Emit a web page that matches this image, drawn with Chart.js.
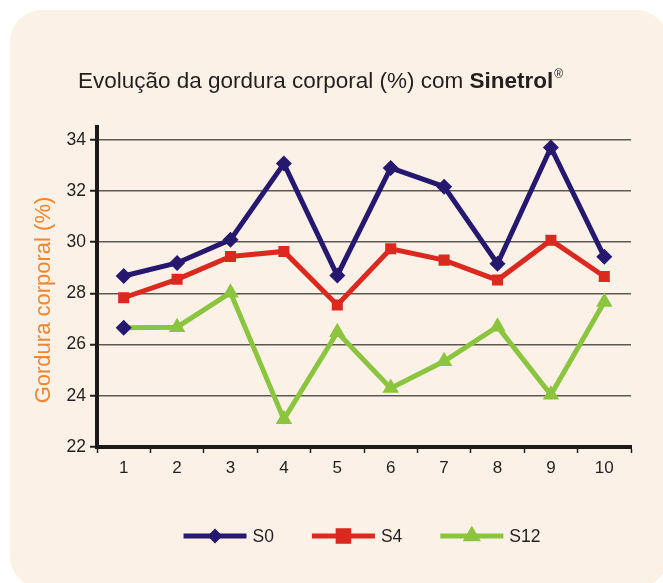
<!DOCTYPE html>
<html>
<head>
<meta charset="utf-8">
<title>Evolução da gordura corporal</title>
<script src="https://cdn.jsdelivr.net/npm/chart.js@4.4.1/dist/chart.umd.min.js"></script>
<style>
  html, body { margin: 0; padding: 0; background: #fff; }
  #wrap { width: 663px; height: 583px; }
</style>
</head>
<body>
<div id="wrap"><canvas id="chart" width="663" height="583"></canvas></div>
<script>
// data
const sessions = ['1', '2', '3', '4', '5', '6', '7', '8', '9', '10'];
const s0  = [28.68, 29.19, 30.1, 33.07, 28.7, 32.9, 32.17, 29.16, 33.7, 29.43];
const s4  = [27.83, 28.55, 29.44, 29.64, 27.55, 29.74, 29.3, 28.52, 30.08, 28.66];
const s12 = [26.66, 26.68, 28.03, 23.08, 26.48, 24.3, 25.35, 26.7, 24.04, 27.66];
const yTicks = [22, 24, 26, 28, 30, 32, 34];

const NAVY = '#26186f';
const RED = '#dc2920';
const GREEN = '#8bc53f';
const ORANGE = '#ef8630';
const INK = '#231f20';
const FONT = '"Liberation Sans", Arial, Helvetica, sans-serif';

Chart.defaults.font.family = FONT;
Chart.defaults.color = INK;

// cream rounded panel behind everything
const panel = {
  id: 'panel',
  beforeDraw(chart) {
    const ctx = chart.ctx;
    ctx.save();
    ctx.fillStyle = '#ffffff';
    ctx.fillRect(0, 0, chart.width, chart.height);
    ctx.fillStyle = '#fcf1e6';
    ctx.beginPath();
    ctx.roundRect(10, 10, 658, 578, 32);
    ctx.fill();
    ctx.restore();
  }
};

// title with bold brand name, and the rotated y title
const texts = {
  id: 'texts',
  afterDraw(chart) {
    const ctx = chart.ctx;
    ctx.save();
    ctx.fillStyle = INK;
    ctx.textBaseline = 'alphabetic';
    ctx.textAlign = 'left';
    let x = 78;
    const part1 = 'Evolução da gordura corporal (%) com ';
    ctx.font = '22.5px ' + FONT;
    ctx.fillText(part1, x, 88);
    x += ctx.measureText(part1).width;
    ctx.font = 'bold 22.5px ' + FONT;
    ctx.fillText('Sinetrol', x, 88);
    x += ctx.measureText('Sinetrol').width + 1;
    ctx.font = '12px ' + FONT;
    ctx.fillText('®', x, 78);

    ctx.translate(44, 300);
    ctx.rotate(-Math.PI / 2);
    ctx.fillStyle = ORANGE;
    ctx.font = '22px ' + FONT;
    ctx.textAlign = 'center';
    ctx.textBaseline = 'middle';
    ctx.fillText('Gordura corporal (%)', 0, 0);
    ctx.restore();
  }
};

// legend: line with the marker in the middle, like the original
const lineLegend = {
  id: 'lineLegend',
  afterDraw(chart) {
    const ctx = chart.ctx;
    const sizes = [7.5, 11, 10.5];
    const styles = ['rectRot', 'rect', 'triangle'];
    const lineLen = 63, gap = 38, y = 536;
    ctx.save();
    ctx.font = '17.5px ' + FONT;
    const items = chart.data.datasets.map((ds, i) => ({
      ds, i, tw: ctx.measureText(ds.label).width
    }));
    let total = items.reduce((s, it) => s + lineLen + 6 + it.tw, 0) + gap * (items.length - 1);
    let x = (chart.chartArea.left + chart.chartArea.right) / 2 - total / 2 - 2;
    items.forEach(it => {
      ctx.strokeStyle = it.ds.borderColor;
      ctx.lineWidth = 5;
      ctx.beginPath();
      ctx.moveTo(x, y);
      ctx.lineTo(x + lineLen, y);
      ctx.stroke();
      ctx.fillStyle = it.ds.borderColor;
      Chart.helpers.drawPoint(ctx, {
        pointStyle: styles[it.i], radius: sizes[it.i], rotation: 0, borderWidth: 0
      }, x + lineLen / 2, y);
      ctx.fillStyle = INK;
      ctx.textAlign = 'left';
      ctx.textBaseline = 'middle';
      ctx.fillText(it.ds.label, x + lineLen + 6, y + 1);
      x += lineLen + 6 + it.tw + gap;
    });
    ctx.restore();
  }
};

new Chart(document.getElementById('chart'), {
  type: 'line',
  data: {
    labels: sessions,
    datasets: [
      {
        label: 'S0', data: s0,
        borderColor: NAVY, backgroundColor: NAVY, borderWidth: 5,
        pointStyle: 'rectRot', pointRadius: 8,
        pointBackgroundColor: NAVY, pointBorderWidth: 0
      },
      {
        label: 'S4', data: s4,
        borderColor: RED, backgroundColor: RED, borderWidth: 5,
        pointStyle: 'rect', pointRadius: 7.8,
        pointBackgroundColor: RED, pointBorderWidth: 0
      },
      {
        label: 'S12', data: s12,
        borderColor: GREEN, backgroundColor: GREEN, borderWidth: 5,
        // first marker in the original is a navy diamond
        pointStyle: s12.map((v, i) => i === 0 ? 'rectRot' : 'triangle'),
        pointRadius: s12.map((v, i) => i === 0 ? 8 : 9.5),
        pointBackgroundColor: s12.map((v, i) => i === 0 ? NAVY : GREEN),
        pointBorderWidth: 0
      }
    ]
  },
  options: {
    responsive: false,
    animation: false,
    events: [],
    elements: { line: { tension: 0 } },
    layout: { padding: { top: 127, left: 0, right: 32, bottom: 96 } },
    plugins: {
      legend: { display: false },
      title: { display: false },
      tooltip: { enabled: false }
    },
    scales: {
      x: {
        type: 'category',
        offset: true,
        afterFit(scale) { scale.height = 40; },
        grid: {
          display: true, drawOnChartArea: false, offset: true,
          tickLength: 6, color: INK, tickColor: INK, tickWidth: 1.5
        },
        border: { display: true, color: '#1c1918', width: 4 },
        ticks: { color: INK, font: { size: 17 }, padding: 5, maxRotation: 0 }
      },
      y: {
        min: 22, max: 34.5,
        afterFit(scale) { scale.width = 97; },
        afterBuildTicks(scale) { scale.ticks = yTicks.map(v => ({ value: v })); },
        grid: {
          color: '#5e5852', lineWidth: 1.5,
          tickColor: INK, tickLength: 7, tickWidth: 2
        },
        border: { display: true, color: '#1c1918', width: 4 },
        ticks: { color: INK, font: { size: 17.5 }, padding: 4 }
      }
    }
  },
  plugins: [panel, texts, lineLegend]
});
</script>
</body>
</html>
